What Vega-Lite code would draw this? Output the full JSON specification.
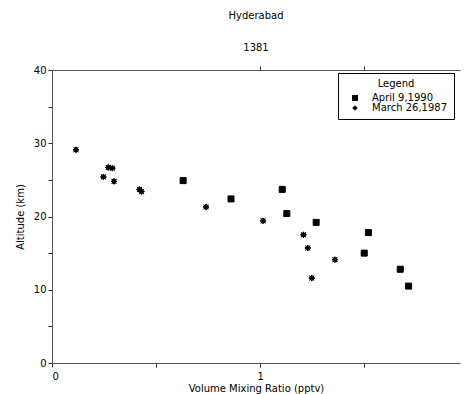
{
  "$schema": "https://vega.github.io/schema/vega-lite/v6.json",
  "width": 408,
  "height": 293,
  "autosize": "none",
  "padding": {"left": 52, "top": 70, "right": 4, "bottom": 31},
  "background": "white",
  "config": {
    "font": "DejaVu Sans",
    "view": {"stroke": null},
    "axis": {"domainColor": "#555", "tickColor": "#333", "labelColor": "black", "titleColor": "black", "labelFont": "DejaVu Sans", "titleFont": "DejaVu Sans", "labelFontSize": 10, "titleFontSize": 10, "titleFontWeight": "normal", "grid": false}
  },
  "title": {"text": "Hyderabad", "subtitle": "1381", "fontSize": 10, "fontWeight": "normal", "subtitleFontSize": 10, "anchor": "middle", "offset": 12, "subtitlePadding": 22, "color": "black", "subtitleColor": "black"},
  "data": {"values": [
    {"vmr": 0.63, "alt": 24.9, "date": "April 9,1990"},
    {"vmr": 0.86, "alt": 22.4, "date": "April 9,1990"},
    {"vmr": 1.106, "alt": 23.7, "date": "April 9,1990"},
    {"vmr": 1.128, "alt": 20.4, "date": "April 9,1990"},
    {"vmr": 1.269, "alt": 19.2, "date": "April 9,1990"},
    {"vmr": 1.52, "alt": 17.8, "date": "April 9,1990"},
    {"vmr": 1.50, "alt": 15.0, "date": "April 9,1990"},
    {"vmr": 1.673, "alt": 12.8, "date": "April 9,1990"},
    {"vmr": 1.713, "alt": 10.5, "date": "April 9,1990"},
    {"vmr": 0.115, "alt": 29.1, "date": "March 26,1987"},
    {"vmr": 0.247, "alt": 25.4, "date": "March 26,1987"},
    {"vmr": 0.27, "alt": 26.7, "date": "March 26,1987"},
    {"vmr": 0.29, "alt": 26.6, "date": "March 26,1987"},
    {"vmr": 0.298, "alt": 24.8, "date": "March 26,1987"},
    {"vmr": 0.42, "alt": 23.7, "date": "March 26,1987"},
    {"vmr": 0.43, "alt": 23.4, "date": "March 26,1987"},
    {"vmr": 0.74, "alt": 21.3, "date": "March 26,1987"},
    {"vmr": 1.014, "alt": 19.4, "date": "March 26,1987"},
    {"vmr": 1.208, "alt": 17.5, "date": "March 26,1987"},
    {"vmr": 1.229, "alt": 15.7, "date": "March 26,1987"},
    {"vmr": 1.359, "alt": 14.1, "date": "March 26,1987"},
    {"vmr": 1.248, "alt": 11.6, "date": "March 26,1987"}
  ]},
  "layer": [
    {
      "mark": {"type": "point", "filled": true, "fill": "black", "stroke": "black", "strokeWidth": 1, "opacity": 1},
      "encoding": {
        "x": {"field": "vmr", "type": "quantitative", "scale": {"domain": [0, 1.96], "nice": false, "zero": false}, "axis": {"title": "Volume Mixing Ratio (pptv)", "values": [0, 0.5, 1, 1.5], "labelExpr": "datum.value == 0 || datum.value == 1 ? format(datum.value, 'd') : ''", "tickSize": 4, "titlePadding": 2, "labelPadding": 4}},
        "y": {"field": "alt", "type": "quantitative", "scale": {"domain": [0, 40], "nice": false}, "axis": {"title": "Altitude (km)", "values": [0, 5, 10, 15, 20, 25, 30, 35, 40], "labelExpr": "datum.value % 10 == 0 ? datum.label : ''", "tickSize": 4, "titlePadding": 8}},
        "shape": {"field": "date", "type": "nominal", "scale": {"domain": ["April 9,1990", "March 26,1987"], "range": ["square", "M0,-1L0.3,-0.45L0.75,-0.75L0.45,-0.3L1,0L0.45,0.3L0.75,0.75L0.3,0.45L0,1L-0.3,0.45L-0.75,0.75L-0.45,0.3L-1,0L-0.45,-0.3L-0.75,-0.75L-0.3,-0.45Z"]},
          "legend": {"title": "Legend", "orient": "none", "legendX": 286, "legendY": 3, "strokeColor": "black", "padding": 6, "titleAnchor": "middle", "titleFontSize": 10, "titleFontWeight": "normal", "labelFontSize": 10, "symbolSize": 36, "symbolFillColor": "black", "symbolStrokeColor": "black", "symbolStrokeWidth": 1, "rowPadding": 0, "labelOffset": 12, "titlePadding": 4, "titleColor": "black", "labelColor": "black", "symbolOffset": 6}},
        "size": {"value": 36}
      }
    },
    {
      "mark": {"type": "rule", "strokeWidth": 0},
      "encoding": {
        "x": {"datum": 1, "type": "quantitative", "axis": {"orient": "top", "title": null, "values": [1, 1.5], "labels": false, "tickSize": 4, "domainColor": "#555"}}
      }
    }
  ],
  "resolve": {"axis": {"x": "independent"}}
}
